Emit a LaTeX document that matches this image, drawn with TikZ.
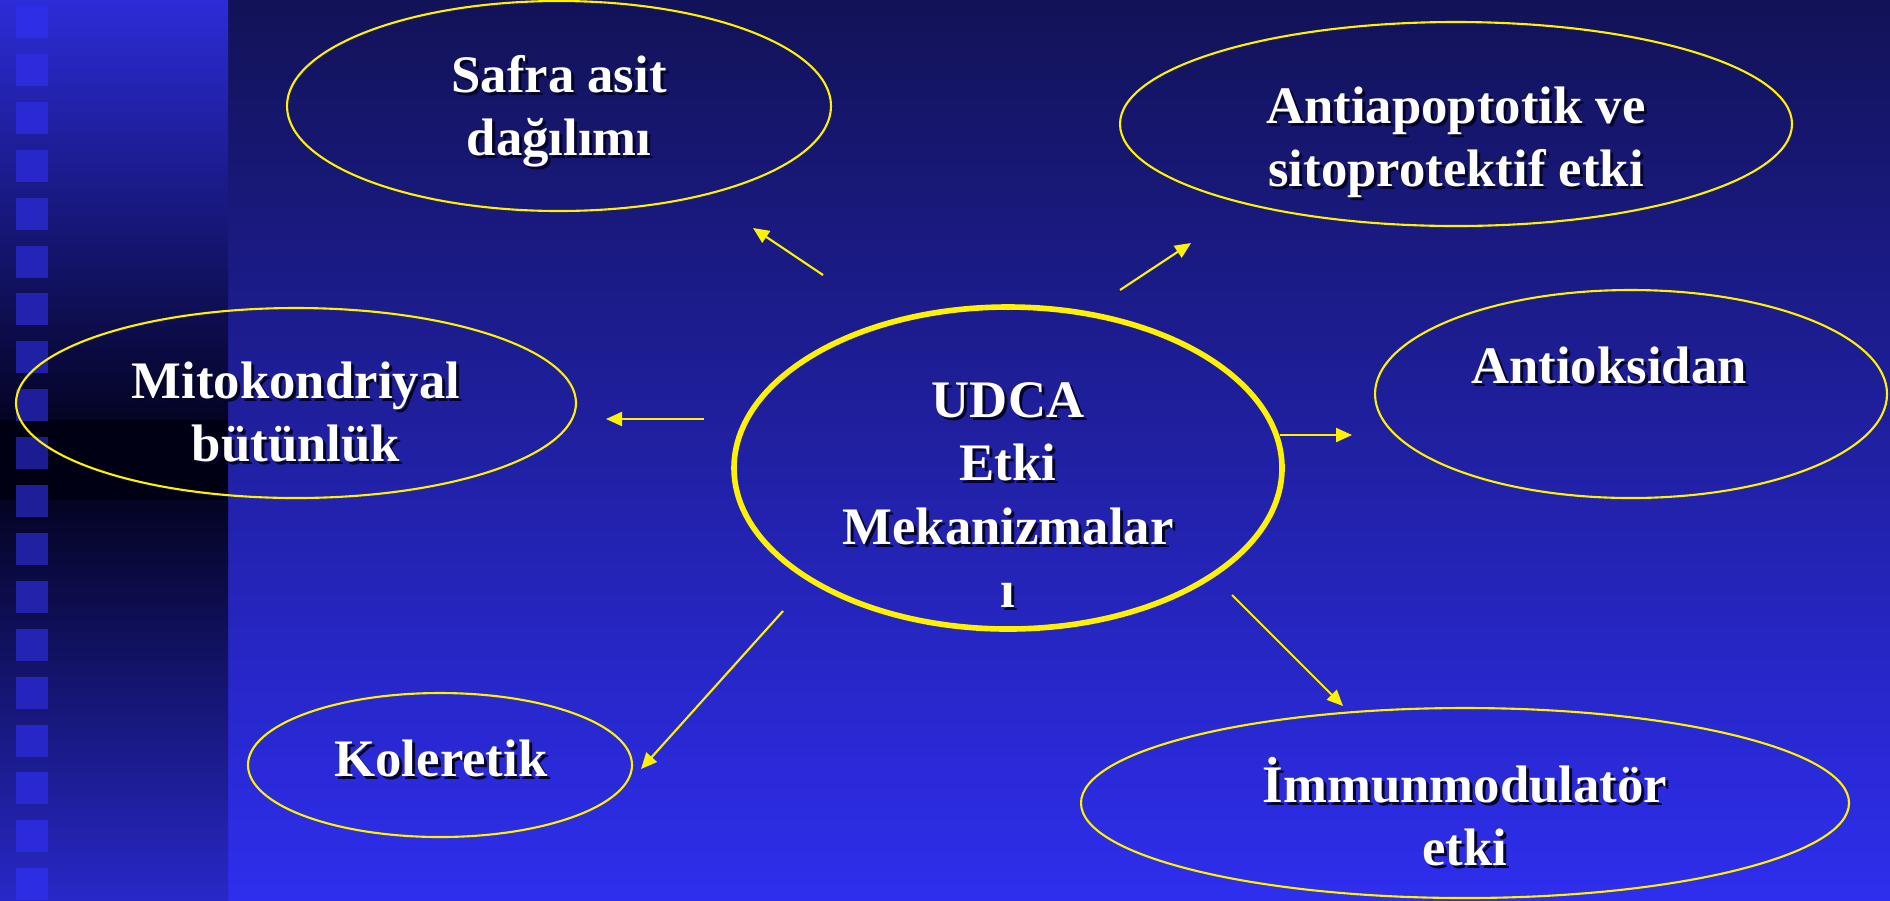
\documentclass[tikz,border=0pt]{standalone}
\usepackage{fontspec}
\setmainfont{Liberation Serif}
\usetikzlibrary{shapes.geometric, arrows.meta}
\definecolor{bgtop}{HTML}{121258}
\definecolor{bgbot}{HTML}{2E2EEE}
\definecolor{striptop}{HTML}{2C2CD8}
\definecolor{stripmid}{HTML}{000014}
\definecolor{stripbot}{HTML}{2828C8}
\definecolor{sqtop}{HTML}{2E2EE8}
\definecolor{sqmid}{HTML}{1C1C90}
\definecolor{shadowcol}{HTML}{05052A}
\tikzstyle{effect} = [ellipse, draw=yellow, line width=0.6pt, inner sep=0pt]
\tikzstyle{core} = [ellipse, draw=yellow, line width=1.6pt, inner sep=0pt]
\tikzstyle{txt} = [text=white, align=center, font=\fontsize{15}{18}\selectfont\bfseries, inner sep=0pt]
\tikzstyle{txtsh} = [txt, text=shadowcol, xshift=0.3mm, yshift=-0.3mm]
\tikzstyle{arrow} = [line width=0.6pt, draw=yellow, fill=yellow, -{Triangle[length=1.6mm,width=1.4mm]}]
\newcommand{\lbl}[3]{\node[txtsh] at (#2) {#3}; \node[txt] (#1) at (#2) {#3};}

\begin{document}
\begin{tikzpicture}[x=0.1mm, y=-0.1mm]

	\shade[top color=bgtop, bottom color=bgbot] (228,0) rectangle (1890,900);
	\shade[top color=striptop, bottom color=stripmid] (0,0) rectangle (228,460);
	\shade[top color=stripmid, bottom color=stripbot] (0,460) rectangle (228,900);
	\fill[stripmid] (0,420) rectangle (228,500);
	\foreach \i in {0,...,18} {
		\pgfmathtruncatemacro{\p}{min(100,abs(22+47.9*\i-460)/4.4)}
		\fill[sqtop!\p!sqmid] (16,{6+47.9*\i}) rectangle +(32,32);
	}
	\useasboundingbox (0,0) rectangle (1890,900);

	\node (safra) [effect, minimum width=54.4mm, minimum height=21mm] at (559,106) {};
	\node (anti) [effect, minimum width=67.2mm, minimum height=20.4mm] at (1456,124) {};
	\node (mito) [effect, minimum width=56mm, minimum height=19mm] at (296,403) {};
	\node (udca) [core, minimum width=54.8mm, minimum height=32.2mm] at (1008,468) {};
	\node (oksi) [effect, minimum width=51.2mm, minimum height=20.8mm] at (1631,394) {};
	\node (kole) [effect, minimum width=38.4mm, minimum height=14.4mm] at (440,765) {};
	\node (immun) [effect, minimum width=76.8mm, minimum height=19mm] at (1465,803) {};

	\lbl{tsafra}{559,111}{Safra asit\\dağılımı}
	\lbl{tanti}{1456,142}{Antiapoptotik ve\\sitoprotektif etki}
	\lbl{tmito}{296,412}{Mitokondriyal\\bütünlük}
	\lbl{tudca}{1008,495}{UDCA\\Etki\\Mekanizmalar\\ı}
	\lbl{toksi}{1609,365}{Antioksidan}
	\lbl{tkole}{441,758}{Koleretik}
	\lbl{timmun}{1465,812}{İmmunmodulatör\\etki}

	\coordinate (s1) at (823,275);  \coordinate (e1) at (753,228);
	\coordinate (s2) at (1120,290); \coordinate (e2) at (1191,243);
	\coordinate (s3) at (704,419);  \coordinate (e3) at (606,419);
	\coordinate (s4) at (1280,435); \coordinate (e4) at (1352,435);
	\coordinate (s5) at (783,611);  \coordinate (e5) at (641,769);
	\coordinate (s6) at (1232,595); \coordinate (e6) at (1343,706);

	\draw [arrow] (s1) -- (e1);
	\draw [arrow] (s2) -- (e2);
	\draw [arrow] (s3) -- (e3);
	\draw [arrow] (s4) -- (e4);
	\draw [arrow] (s5) -- (e5);
	\draw [arrow] (s6) -- (e6);

\end{tikzpicture}
\end{document}
